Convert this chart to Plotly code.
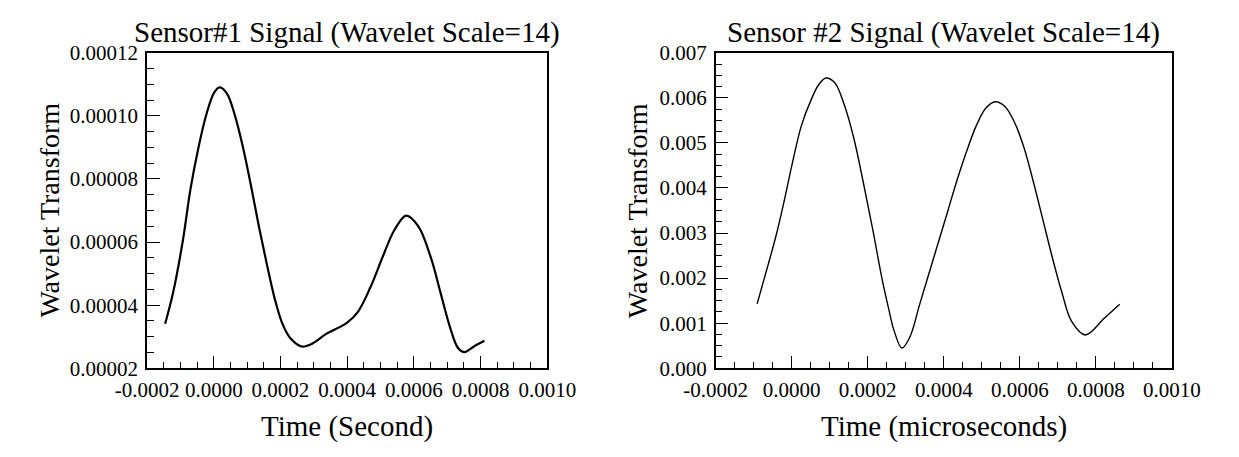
import plotly.graph_objects as go

# ---- data ----
s1_time = [-0.0001457, -0.000122, -0.0000934, -0.0000694, -0.0000457, -0.000022, 0.0000019, 0.0000181,
           0.00004, 0.0000637, 0.0000877, 0.0001114, 0.0001352, 0.0001591, 0.0001829, 0.0002066,
           0.0002306, 0.0002637, 0.000297, 0.0003371, 0.0003991, 0.0004323, 0.0004706, 0.0005086,
           0.000542, 0.0005771, 0.0006134, 0.0006514, 0.00068, 0.0007086, 0.0007323, 0.0007514,
           0.00078, 0.0008114]
s1_value = [0.0000341, 0.0000439, 0.00006, 0.000077, 0.00009, 0.0001005, 0.0001075, 0.000109,
            0.000107, 0.0001, 0.00009, 0.000078, 0.000065, 0.000053, 0.000042, 0.0000339,
            0.0000294, 0.0000269, 0.0000279, 0.0000309, 0.0000344, 0.0000379, 0.0000459, 0.0000559,
            0.0000639, 0.0000684, 0.000065, 0.0000549, 0.0000439, 0.0000329, 0.0000264, 0.0000251,
            0.0000269, 0.0000287]

s2_time = [-0.0000908, -0.0000658, -0.0000408, -0.00002, 0.0000008, 0.0000258, 0.0000508, 0.0000718,
           0.00009, 0.0001133, 0.0001383, 0.0001633, 0.0001883, 0.0002133, 0.0002383, 0.000255,
           0.0002692, 0.00029, 0.0003108, 0.0003358, 0.0003608, 0.0003858, 0.0004108, 0.0004358,
           0.0004608, 0.0004858, 0.0005108, 0.0005358, 0.0005608, 0.0005858, 0.0006108, 0.0006358,
           0.0006608, 0.0006858, 0.0007108, 0.0007358, 0.000772, 0.000822, 0.0008625]
s2_value = [0.001429, 0.002180, 0.002950, 0.003700, 0.004513, 0.005388, 0.005949, 0.0063,
            0.006439, 0.006334, 0.005844, 0.005108, 0.004127, 0.003075, 0.001955, 0.001324,
            0.000835, 0.000448, 0.000694, 0.001394, 0.002098, 0.002796, 0.003496, 0.004198,
            0.004829, 0.005388, 0.005775, 0.005914, 0.005808, 0.005459, 0.004898, 0.004127,
            0.003286, 0.002445, 0.001676, 0.001045, 0.000739, 0.00111, 0.00142]

x_tickvals = [-0.0002, 0.0, 0.0002, 0.0004, 0.0006, 0.0008, 0.0010]
x_ticktext = ["-0.0002", "0.0000", "0.0002", "0.0004", "0.0006", "0.0008", "0.0010"]
y1_tickvals = [0.00002, 0.00004, 0.00006, 0.00008, 0.00010, 0.00012]
y1_ticktext = ["0.00002", "0.00004", "0.00006", "0.00008", "0.00010", "0.00012"]
y2_tickvals = [0.000, 0.001, 0.002, 0.003, 0.004, 0.005, 0.006, 0.007]
y2_ticktext = ["0.000", "0.001", "0.002", "0.003", "0.004", "0.005", "0.006", "0.007"]

titles = ["Sensor#1 Signal (Wavelet Scale=14)", "Sensor #2 Signal (Wavelet Scale=14)"]
xtitles = ["Time (Second)", "Time (microseconds)"]
ytitle = "Wavelet Transform"

W, H = 1239, 457
FONT = "Liberation Serif"
TICKF = dict(family=FONT, size=21, color="black")
TITLEF = dict(family=FONT, size=29, color="black")
YTITLEF = dict(family=FONT, size=28, color="black")

fig = go.Figure()
fig.add_trace(go.Scatter(x=s1_time, y=s1_value, mode="lines",
                         line=dict(color="black", width=2.2, shape="spline", smoothing=1.0),
                         xaxis="x", yaxis="y", showlegend=False))
fig.add_trace(go.Scatter(x=s2_time, y=s2_value, mode="lines",
                         line=dict(color="black", width=1.4, shape="spline", smoothing=1.0),
                         xaxis="x2", yaxis="y2", showlegend=False))

d1 = [121 / W, 542 / W]
d2 = [719 / W, 1199 / W]
dy = [1 - 376 / H, 1 - 43 / H]

def xaxis(domain, anchor):
    return dict(domain=domain, anchor=anchor, range=[-0.0002, 0.0010], tickmode="array",
                tickvals=x_tickvals, ticktext=x_ticktext, ticks="inside", ticklen=13, tickwidth=1.2,
                tickcolor="black", showline=True, linecolor="black", linewidth=1.5, mirror=True,
                showgrid=False, zeroline=False, tickfont=TICKF, ticklabelstandoff=2,
                minor=dict(tick0=-0.0002, dtick=0.00005, ticks="inside", ticklen=7, tickwidth=1,
                           tickcolor="black", showgrid=False))

def yaxis(anchor, rng, tv, tt, mdt):
    return dict(domain=dy, anchor=anchor, range=rng, tickmode="array", tickvals=tv, ticktext=tt,
                ticks="inside", ticklen=13, tickwidth=1.2, tickcolor="black", showline=True,
                linecolor="black", linewidth=1.5, mirror=True, showgrid=False, zeroline=False,
                tickfont=TICKF, ticklabelstandoff=3,
                minor=dict(tick0=rng[0], dtick=mdt, ticks="inside", ticklen=7, tickwidth=1,
                           tickcolor="black", showgrid=False))

fig.update_layout(
    width=W, height=H, margin=dict(l=0, r=0, t=0, b=0),
    paper_bgcolor="white", plot_bgcolor="white",
    xaxis=xaxis(d1, "y"), xaxis2=xaxis(d2, "y2"),
    yaxis=yaxis("x", [0.00002, 0.00012], y1_tickvals, y1_ticktext, 0.000005),
    yaxis2=yaxis("x2", [0.0, 0.007], y2_tickvals, y2_ticktext, 0.00025),
)

anns = []
for d, t, xt, yx in [(d1, titles[0], xtitles[0], 18), (d2, titles[1], xtitles[1], 637)]:
    cx = (d[0] + d[1]) / 2
    anns.append(dict(text=t, x=cx, y=1 - 22 / H, xref="paper", yref="paper", xanchor="center",
                     yanchor="middle", showarrow=False, font=TITLEF))
    anns.append(dict(text=xt, x=cx, y=1 - 437 / H, xref="paper", yref="paper", xanchor="center",
                     yanchor="middle", showarrow=False, font=TITLEF))
    anns.append(dict(text=ytitle, x=yx / W, y=(dy[0] + dy[1]) / 2, xref="paper", yref="paper",
                     xanchor="center", yanchor="middle", textangle=-90, showarrow=False, font=YTITLEF))
fig.update_layout(annotations=anns)

fig.write_html("out.html")
